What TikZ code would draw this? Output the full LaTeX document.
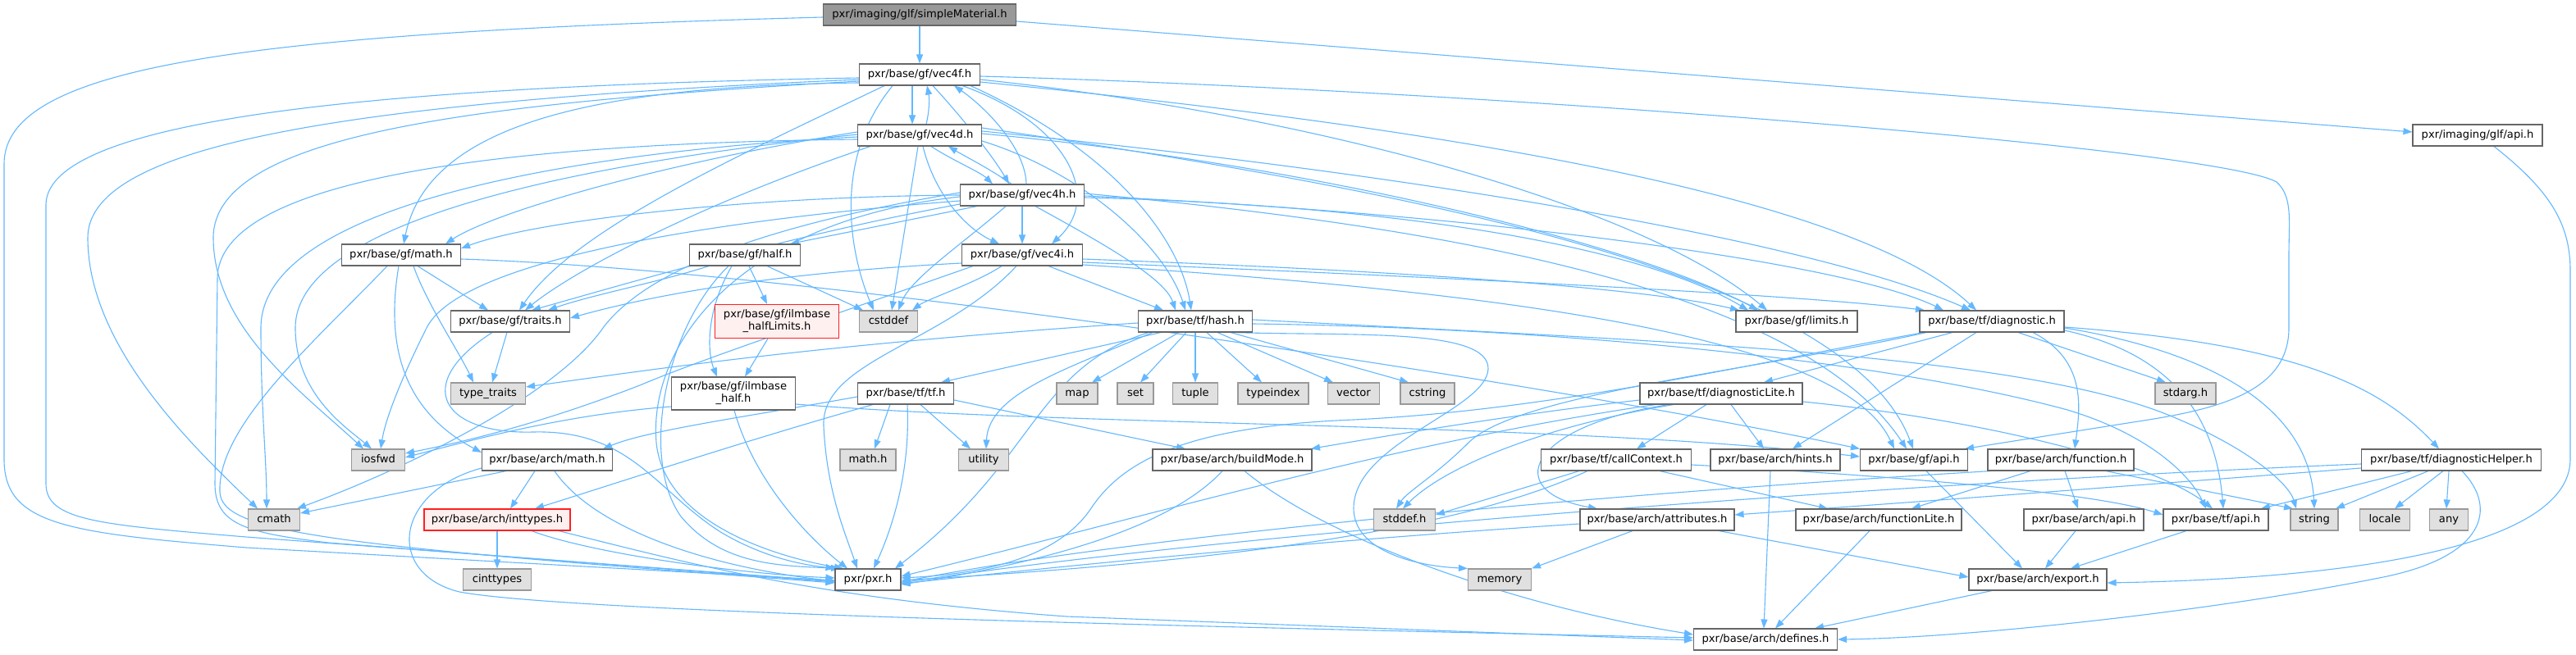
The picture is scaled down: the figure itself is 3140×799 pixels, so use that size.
\documentclass[tikz,border=0pt]{standalone}
\usepackage{fontspec}
\setmainfont{DejaVu Sans}
\usetikzlibrary{arrows.meta,backgrounds}
\definecolor{edgec}{HTML}{63B8FF}
\definecolor{bordc}{HTML}{666666}
\definecolor{grayfill}{HTML}{E0E0E0}
\definecolor{graybord}{HTML}{999999}
\definecolor{redfill}{HTML}{FFF0F0}
\definecolor{redbord}{HTML}{FF2020}
\definecolor{rootfill}{HTML}{999999}
\newcommand\dxfont{\fontsize{13.1pt}{15pt}\selectfont}
\begin{document}
\begin{tikzpicture}[x=1pt,y=-1pt,
  nd/.style={draw=bordc, fill=white, line width=1.1pt, font=\dxfont, minimum height=26pt, inner sep=0pt, text height=10pt, text depth=3pt},
  sys/.style={nd, draw=graybord, fill=grayfill},
  redn/.style={draw=redbord, fill=redfill, line width=1.1pt, font=\dxfont, inner sep=0pt, align=center, minimum height=41pt},
  twon/.style={draw=bordc, fill=white, line width=1.1pt, font=\dxfont, inner sep=0pt, align=center, minimum height=40pt},
  rootn/.style={nd, fill=rootfill},
  e/.style={draw=edgec, line width=1.1pt, -{Triangle[length=11pt,width=8pt]}}
]
\useasboundingbox (0,0) rectangle (3140,799);
% ---------- nodes ----------
\node[rootn, minimum width=235pt] (root) at (1121,18) {pxr/imaging/glf/simpleMaterial.h};
\node[nd, minimum width=147pt] (vec4f) at (1121,91) {pxr/base/gf/vec4f.h};
\node[nd, minimum width=151pt] (vec4d) at (1121,165) {pxr/base/gf/vec4d.h};
\node[nd, minimum width=151pt] (vec4h) at (1246,238) {pxr/base/gf/vec4h.h};
\node[nd, minimum width=158pt] (glfapi) at (3020,165) {pxr/imaging/glf/api.h};
\node[nd, minimum width=145pt] (gfmath) at (489,311) {pxr/base/gf/math.h};
\node[nd, minimum width=135pt] (half) at (908,311) {pxr/base/gf/half.h};
\node[nd, minimum width=147pt] (vec4i) at (1246,311) {pxr/base/gf/vec4i.h};
\node[nd, minimum width=145pt] (traits) at (622,392) {pxr/base/gf/traits.h};
\node[redn, minimum width=151pt] (halfLimits) at (947,392) {pxr/base/gf/ilmbase\\\_halfLimits.h};
\node[sys, minimum width=71pt] (cstddef) at (1083,392) {cstddef};
\node[nd, minimum width=139pt] (hash) at (1457,392) {pxr/base/tf/hash.h};
\node[nd, minimum width=148pt] (limits) at (2190,392) {pxr/base/gf/limits.h};
\node[nd, minimum width=176pt] (diagnostic) at (2428,392) {pxr/base/tf/diagnostic.h};
\node[sys, minimum width=91pt] (typetraits) at (595,480) {type\_traits};
\node[twon, minimum width=151pt] (ilmhalf) at (894,480) {pxr/base/gf/ilmbase\\\_half.h};
\node[nd, minimum width=117pt] (tftf) at (1104,480) {pxr/base/tf/tf.h};
\node[sys, minimum width=50pt] (map) at (1313,480) {map};
\node[sys, minimum width=44pt] (set) at (1384,480) {set};
\node[sys, minimum width=55pt] (tuple) at (1457,480) {tuple};
\node[sys, minimum width=86pt] (typeindex) at (1552,480) {typeindex};
\node[sys, minimum width=63pt] (vector) at (1650,480) {vector};
\node[sys, minimum width=66pt] (cstring) at (1740,480) {cstring};
\node[nd, minimum width=198pt] (diagLite) at (2098,480) {pxr/base/tf/diagnosticLite.h};
\node[sys, minimum width=74pt] (stdarg) at (2664,480) {stdarg.h};
\node[sys, minimum width=65pt] (iosfwd) at (461,561) {iosfwd};
\node[nd, minimum width=159pt] (archmath) at (667,561) {pxr/base/arch/math.h};
\node[sys, minimum width=68pt] (mathh) at (1058,561) {math.h};
\node[sys, minimum width=61pt] (utility) at (1199,561) {utility};
\node[nd, minimum width=194pt] (buildMode) at (1502,561) {pxr/base/arch/buildMode.h};
\node[nd, minimum width=183pt] (callCtx) at (1970,561) {pxr/base/tf/callContext.h};
\node[nd, minimum width=158pt] (hints) at (2164,561) {pxr/base/arch/hints.h};
\node[nd, minimum width=131pt] (gfapi) at (2333,561) {pxr/base/gf/api.h};
\node[nd, minimum width=178pt] (function) at (2512,561) {pxr/base/arch/function.h};
\node[nd, minimum width=219pt] (diagHelper) at (2988,561) {pxr/base/tf/diagnosticHelper.h};
\node[sys, minimum width=63pt] (cmath) at (334,634) {cmath};
\node[redn, minimum width=178pt, minimum height=26pt, text height=10pt, text depth=3pt] (inttypes) at (606,634) {pxr/base/arch/inttypes.h};
\node[sys, minimum width=75pt] (stddef) at (1712,634) {stddef.h};
\node[nd, minimum width=188pt] (attributes) at (2020,634) {pxr/base/arch/attributes.h};
\node[nd, minimum width=202pt] (functionLite) at (2290,634) {pxr/base/arch/functionLite.h};
\node[nd, minimum width=146pt] (archapi) at (2540,634) {pxr/base/arch/api.h};
\node[nd, minimum width=128pt] (tfapi) at (2701,634) {pxr/base/tf/api.h};
\node[sys, minimum width=58pt] (string) at (2821,634) {string};
\node[sys, minimum width=61pt] (locale) at (2907,634) {locale};
\node[sys, minimum width=47pt] (any) at (2985,634) {any};
\node[sys, minimum width=83pt] (cinttypes) at (606,707) {cinttypes};
\node[nd, minimum width=80pt] (pxr) at (1058,707) {pxr/pxr.h};
\node[sys, minimum width=77pt] (memory) at (1828,707) {memory};
\node[nd, minimum width=168pt] (export) at (2484,707) {pxr/base/arch/export.h};
\node[nd, minimum width=175pt] (defines) at (2152,780) {pxr/base/arch/defines.h};
% ---------- edges ----------
\begin{scope}[on background layer]
\fill[white] (0,0) rectangle (3140,799);
% root
\draw[e] (root.south) -- (vec4f.north);
\draw[e] ([yshift=-8pt]root.east) -- ([yshift=4pt]glfapi.west);
\draw[e] ([yshift=-3pt]root.west) .. controls (300,40) and (5,80) .. (5,200) -- (5,560) .. controls (5,640) and (80,650) .. (300,668) -- ([yshift=-1pt]pxr.west);
% glf api
\draw[e] ([xshift=20pt]glfapi.south) .. controls (3105,230) and (3133,270) .. (3133,330) -- (3133,560) .. controls (3133,660) and (2900,705) .. ([yshift=-4pt]export.east);
% vec4f
\draw[e] ([xshift=-9pt]vec4f.south) -- ([xshift=-9pt]vec4d.north);
\draw[e] ([xshift=16pt]vec4f.south) .. controls (1170,140) and (1210,190) .. ([xshift=-16pt]vec4h.north);
\draw[e] ([xshift=52pt]vec4f.south) .. controls (1300,150) and (1345,240) .. ([xshift=36pt]vec4i.north);
\draw[e] ([xshift=62pt]vec4f.south) .. controls (1370,190) and (1440,300) .. ([xshift=-5pt]hash.north);
\draw[e] ([yshift=-4pt]vec4f.west) .. controls (500,105) and (56,140) .. (56,250) -- (56,590) .. controls (56,635) and (120,640) .. (300,655) -- ([yshift=-2pt]pxr.west);
\draw[e] ([yshift=-6pt]vec4f.west) .. controls (400,125) and (107,180) .. (107,290) .. controls (107,420) and (230,540) .. ([xshift=-20pt]cmath.north);
\draw[e] ([yshift=-8pt]vec4f.west) .. controls (600,125) and (260,160) .. (260,290) .. controls (260,400) and (370,480) .. ([xshift=-18pt]iosfwd.north);
\draw[e] ([yshift=-10pt]vec4f.west) .. controls (700,105) and (520,160) .. ([xshift=3pt]gfmath.north);
\draw[e] ([xshift=-43pt]vec4f.south) .. controls (900,190) and (700,280) .. ([xshift=11pt]traits.north);
\draw[e] ([xshift=-33pt]vec4f.south) .. controls (1010,200) and (1040,320) .. ([xshift=-18pt]cstddef.north);
\draw[e] ([yshift=-6pt]vec4f.east) .. controls (1600,140) and (2000,250) .. ([xshift=-36pt]limits.north);
\draw[e] ([yshift=-9pt]vec4f.east) .. controls (1700,150) and (2250,230) .. ([xshift=-19pt]diagnostic.north);
\draw[e] ([yshift=-2pt]vec4f.east) .. controls (1800,110) and (2700,180) .. (2775,222) .. controls (2795,240) and (2790,270) .. (2790,310) -- (2790,400) .. controls (2790,480) and (2700,500) .. (2600,515) -- ([xshift=62pt]gfapi.north);
% vec4d
\draw[e] ([xshift=8pt]vec4d.north) .. controls (1133,135) and (1133,120) .. ([xshift=9pt]vec4f.south);
\draw[e] ([xshift=14pt]vec4d.south) .. controls (1160,195) and (1195,210) .. ([xshift=-36pt]vec4h.north);
\draw[e] ([xshift=4pt]vec4d.south) .. controls (1140,240) and (1180,280) .. ([xshift=-28pt]vec4i.north);
\draw[e] ([yshift=-7pt]vec4d.east) .. controls (1320,210) and (1420,300) .. ([xshift=-12pt]hash.north);
\draw[e] ([yshift=-5pt]vec4d.west) .. controls (600,175) and (265,220) .. (265,340) -- (262,590) .. controls (262,640) and (300,650) .. (400,662) -- ([yshift=-3pt]pxr.west);
\draw[e] ([yshift=-2pt]vec4d.west) .. controls (700,185) and (318,250) .. (318,400) .. controls (318,500) and (325,560) .. ([xshift=-9pt]cmath.north);
\draw[e] ([yshift=1pt]vec4d.west) .. controls (700,200) and (360,270) .. (360,400) .. controls (360,480) and (420,520) .. ([xshift=-8pt]iosfwd.north);
\draw[e] ([yshift=4pt]vec4d.west) .. controls (800,200) and (600,260) .. ([xshift=54pt]gfmath.north);
\draw[e] ([xshift=-60pt]vec4d.south) .. controls (850,250) and (700,330) .. ([xshift=18pt]traits.north);
\draw[e] ([xshift=-2pt]vec4d.south) -- ([xshift=4pt]cstddef.north);
\draw[e] ([yshift=2pt]vec4d.east) .. controls (1600,200) and (2000,300) .. ([xshift=-47pt]limits.north);
\draw[e] ([yshift=5pt]vec4d.east) .. controls (1700,210) and (2200,290) .. ([xshift=-26pt]diagnostic.north);
\draw[e] ([yshift=9pt]vec4d.east) .. controls (1700,230) and (2250,330) .. ([xshift=-1pt]gfapi.north);
% vec4h
\draw[e] ([xshift=5pt]vec4h.north) .. controls (1250,180) and (1200,130) .. ([xshift=42pt]vec4f.south);
\draw[e] ([xshift=-13pt]vec4h.north) .. controls (1205,205) and (1175,190) .. ([xshift=35pt]vec4d.south);
\draw[e] (vec4h.south) -- (vec4i.north);
\draw[e] ([xshift=-55pt]vec4h.south) .. controls (1100,270) and (1000,290) .. ([xshift=55pt]half.north);
\draw[e] ([xshift=16pt]vec4h.south) .. controls (1350,300) and (1420,340) .. ([xshift=-24pt]hash.north);
\draw[e] ([xshift=-20pt]vec4h.south) .. controls (1170,300) and (1110,340) .. ([xshift=12pt]cstddef.north);
\draw[e] ([yshift=-2pt]vec4h.west) .. controls (900,270) and (790,420) .. (800,540) .. controls (810,640) and (950,680) .. ([xshift=-30pt]pxr.north);
\draw[e] ([yshift=3pt]vec4h.west) .. controls (900,280) and (780,340) .. (735,400) .. controls (680,480) and (500,570) .. ([xshift=28pt]cmath.north);
\draw[e] ([yshift=-7pt]vec4h.west) .. controls (850,270) and (560,320) .. (520,400) .. controls (490,460) and (470,510) .. ([xshift=3pt]iosfwd.north);
\draw[e] (vec4h.west) .. controls (900,240) and (650,270) .. ([yshift=8pt]gfmath.east);
\draw[e] ([yshift=-11pt]vec4h.west) .. controls (950,290) and (750,350) .. ([xshift=26pt]traits.north);
\draw[e] ([yshift=-3pt]vec4h.east) .. controls (1700,250) and (2000,300) .. ([xshift=-59pt]limits.north);
\draw[e] ([yshift=-1pt]vec4h.east) .. controls (1800,260) and (2250,320) .. ([xshift=-59pt]diagnostic.north);
\draw[e] ([yshift=2pt]vec4h.east) .. controls (1800,280) and (2200,360) .. ([xshift=-9pt]gfapi.north);
% vec4i
\draw[e] ([xshift=-25pt]vec4i.south) .. controls (1190,345) and (1130,365) .. ([xshift=29pt]cstddef.north);
\draw[e] ([xshift=32pt]vec4i.south) -- ([xshift=-39pt]hash.north);
\draw[e] ([xshift=-7pt]vec4i.south) .. controls (1150,420) and (1000,440) .. (1004,520) .. controls (1008,600) and (1030,650) .. ([xshift=-13pt]pxr.north);
\draw[e] ([yshift=-10pt]vec4i.west) .. controls (900,335) and (760,370) .. ([yshift=4pt]traits.east);
\draw[e] ([xshift=-60pt]vec4i.south) .. controls (1000,390) and (850,440) .. (780,470) .. controls (650,520) and (560,540) .. ([yshift=8pt]iosfwd.east);
\draw[e] ([yshift=-5pt]vec4i.east) .. controls (1700,330) and (2000,350) .. ([xshift=-70pt]limits.north);
\draw[e] ([yshift=-9pt]vec4i.east) .. controls (1800,340) and (2200,360) .. ([xshift=-82pt]diagnostic.north);
\draw[e] ([yshift=-12pt]vec4i.east) .. controls (1900,360) and (2250,420) .. ([xshift=-24pt]gfapi.north);
% gf/math.h
\draw[e] ([xshift=20pt]gfmath.south) -- ([xshift=-27pt]traits.north);
\draw[e] ([xshift=15pt]gfmath.south) .. controls (520,370) and (560,430) .. ([xshift=-18pt]typetraits.north);
\draw[e] ([xshift=-3pt]gfmath.south) .. controls (470,420) and (490,500) .. ([yshift=9pt]archmath.west);
\draw[e] ([xshift=-17pt]gfmath.south) .. controls (380,420) and (265,520) .. (268,600) .. controls (270,650) and (400,665) .. ([yshift=-4pt]pxr.west);
\draw[e] ([yshift=-5pt]gfmath.east) .. controls (1000,330) and (1900,470) .. (gfapi.north west);
% traits
\draw[e] ([xshift=-4pt]traits.south) -- ([xshift=5pt]typetraits.north);
\draw[e] ([xshift=-22pt]traits.south) .. controls (500,470) and (540,530) .. (650,527) .. controls (770,524) and (800,600) .. (880,650) .. controls (940,685) and (990,690) .. (pxr.north west);
% arch/math.h
\draw[e] ([xshift=-50pt]archmath.south) -- ([yshift=8pt]cmath.east);
\draw[e] ([xshift=-15pt]archmath.south) -- ([xshift=16pt]inttypes.north);
\draw[e] ([xshift=9pt]archmath.south) .. controls (720,640) and (850,690) .. ([yshift=-2pt]pxr.west);
\draw[e] ([yshift=-10pt]archmath.west) .. controls (480,600) and (470,700) .. (560,722) .. controls (700,748) and (1500,765) .. ([yshift=2pt]defines.west);
% inttypes
\draw[e] (inttypes.south) -- (cinttypes.north);
\draw[e] ([xshift=42pt]inttypes.south) .. controls (720,675) and (900,700) .. ([yshift=2pt]pxr.west);
\draw[e] ([xshift=75pt]inttypes.south) .. controls (850,690) and (1000,730) .. (1300,752) -- ([yshift=-1pt]defines.west);
% half
\draw[e] ([xshift=5pt]half.south) -- ([xshift=-12pt]halfLimits.north);
\draw[e] ([xshift=27pt]half.south) -- ([xshift=-31pt]cstddef.north);
\draw[e] ([xshift=-16pt]half.south) .. controls (860,380) and (862,430) .. ([xshift=-20pt]ilmhalf.north);
\draw[e] ([xshift=-20pt]half.south) .. controls (810,400) and (780,560) .. (830,630) .. controls (880,690) and (950,690) .. ([xshift=-34pt]pxr.north);
\draw[e] ([xshift=-44pt]half.south) .. controls (800,345) and (720,360) .. ([xshift=46pt]traits.north);
\draw[e] ([xshift=-11pt]halfLimits.south) -- ([xshift=14pt]ilmhalf.north);
% ilmbase_half
\draw[e] ([xshift=1pt]ilmhalf.south) .. controls (920,590) and (990,660) .. ([xshift=-25pt]pxr.north);
\draw[e] ([yshift=-13pt]ilmhalf.east) .. controls (1300,520) and (1900,515) .. ([yshift=4pt]gfapi.west);
\draw[e] ([yshift=-16pt]ilmhalf.west) .. controls (700,505) and (600,530) .. ([yshift=3pt]iosfwd.east);
% tf.h
\draw[e] ([xshift=-19pt]tftf.south) -- ([xshift=8pt]mathh.north);
\draw[e] ([xshift=18pt]tftf.south) -- ([xshift=-16pt]utility.north);
\draw[e] ([xshift=2pt]tftf.south) .. controls (1110,580) and (1085,650) .. ([xshift=7pt]pxr.north);
\draw[e] ([yshift=-8pt]tftf.east) -- ([xshift=-57pt]buildMode.north);
\draw[e] ([yshift=-4pt]tftf.west) .. controls (900,510) and (790,525) .. ([xshift=68pt]archmath.north);
\draw[e] ([xshift=-40pt]tftf.south) .. controls (900,540) and (750,590) .. ([xshift=46pt]inttypes.north);
% hash
\draw[e] ([xshift=-20pt]hash.south) -- ([xshift=18pt]map.north);
\draw[e] ([xshift=-11pt]hash.south) -- ([xshift=6pt]set.north);
\draw[e] (hash.south) -- (tuple.north);
\draw[e] ([xshift=14pt]hash.south) -- ([xshift=-14pt]typeindex.north);
\draw[e] ([xshift=27pt]hash.south) -- ([xshift=-25pt]vector.north);
\draw[e] ([xshift=43pt]hash.south) -- ([xshift=-23pt]cstring.north);
\draw[e] ([xshift=-42pt]hash.south) -- ([xshift=43pt]tftf.north);
\draw[e] ([xshift=-52pt]hash.south) .. controls (1300,450) and (1205,480) .. ([xshift=3pt]utility.north);
\draw[e] ([xshift=-57pt]hash.south) .. controls (1260,450) and (1265,560) .. ([xshift=33pt]pxr.north);
\draw[e] ([yshift=-2pt]hash.west) .. controls (1000,420) and (800,450) .. ([yshift=8pt]typetraits.east);
\draw[e] ([xshift=47pt]hash.south) .. controls (1650,410) and (1815,400) .. (1814,450) .. controls (1812,500) and (1650,540) .. (1650,620) .. controls (1650,670) and (1720,690) .. (memory.north west);
\draw[e] ([yshift=-3pt]hash.east) .. controls (1900,400) and (2300,440) .. (2520,500) .. controls (2620,530) and (2670,580) .. ([xshift=-12pt]tfapi.north);
\draw[e] ([yshift=2pt]hash.east) .. controls (2000,415) and (2450,430) .. (2640,505) .. controls (2740,545) and (2790,590) .. ([xshift=-22pt]string.north);
% diagnostic
\draw[e] ([xshift=-48pt]diagnostic.south) -- ([xshift=52pt]diagLite.north);
\draw[e] ([xshift=-19pt]diagnostic.south) -- ([xshift=21pt]hints.north);
\draw[e] ([xshift=50pt]diagnostic.south) .. controls (2545,440) and (2535,500) .. ([xshift=17pt]function.north);
\draw[e] ([xshift=32pt]diagnostic.south) -- ([xshift=-24pt]stdarg.north);
\draw[e] ([yshift=-7pt]diagnostic.east) .. controls (2800,420) and (2900,470) .. ([xshift=-15pt]diagHelper.north);
\draw[e] ([yshift=-11pt]diagnostic.east) .. controls (2640,430) and (2700,500) .. ([xshift=9pt]tfapi.north);
\draw[e] ([yshift=-8pt]diagnostic.east) .. controls (2700,430) and (2815,500) .. (string.north);
\draw[e] ([xshift=-83pt]diagnostic.south) .. controls (2150,440) and (1900,500) .. (1650,512) .. controls (1450,520) and (1370,560) .. (1330,620) .. controls (1290,680) and (1200,700) .. ([yshift=2pt]pxr.east);
\draw[e] ([xshift=-80pt]diagnostic.south) .. controls (2150,450) and (1850,480) .. (1790,540) .. controls (1750,580) and (1715,600) .. ([xshift=-10pt]stddef.north);
% diagnosticLite
\draw[e] ([xshift=-18pt]diagLite.south) -- ([xshift=25pt]callCtx.north);
\draw[e] ([xshift=12pt]diagLite.south) -- ([xshift=-14pt]hints.north);
\draw[e] ([xshift=-58pt]diagLite.south) .. controls (1880,520) and (1760,570) .. ([xshift=-2pt]stddef.north);
\draw[e] ([xshift=-64pt]diagLite.south) .. controls (1860,520) and (1830,600) .. ([xshift=-73pt]attributes.north);
\draw[e] ([xshift=-80pt]diagLite.south) .. controls (1700,540) and (1400,630) .. ([yshift=4pt]pxr.east);
\draw[e] ([yshift=-10pt]diagLite.east) .. controls (2400,510) and (2620,560) .. ([xshift=-4pt]tfapi.north);
\draw[e] ([yshift=-8pt]diagLite.west) .. controls (1850,505) and (1700,530) .. ([xshift=96pt]buildMode.north);
% callContext
\draw[e] ([xshift=-45pt]callCtx.south) -- ([yshift=6pt]stddef.east);
\draw[e] ([xshift=-35pt]callCtx.south) .. controls (1750,660) and (1400,690) .. ([yshift=-1pt]pxr.east);
\draw[e] ([xshift=53pt]callCtx.south) -- ([xshift=-62pt]functionLite.north);
\draw[e] ([yshift=-6pt]callCtx.east) .. controls (2300,580) and (2550,600) .. ([yshift=6pt]tfapi.west);
% misc arch
\draw[e] ([xshift=-6pt]hints.south) -- ([xshift=-2pt]defines.north);
\draw[e] ([xshift=15pt]gfapi.south) -- ([xshift=-19pt]export.north);
\draw[e] ([xshift=5pt]function.south) -- ([xshift=-7pt]archapi.north);
\draw[e] ([xshift=55pt]function.south) -- ([xshift=-26pt]string.north);
\draw[e] ([xshift=-37pt]function.south) -- ([xshift=40pt]functionLite.north);
\draw[e] ([xshift=-85pt]function.south) .. controls (2000,600) and (1400,650) .. ([yshift=-3pt]pxr.east);
% diagnosticHelper
\draw[e] ([xshift=-48pt]diagHelper.south) -- ([xshift=55pt]tfapi.north);
\draw[e] ([xshift=-28pt]diagHelper.south) -- ([xshift=26pt]string.north);
\draw[e] ([xshift=-10pt]diagHelper.south) -- ([xshift=12pt]locale.north);
\draw[e] ([xshift=-3pt]diagHelper.south) -- ([xshift=-3pt]any.north);
\draw[e] ([yshift=-5pt]diagHelper.west) .. controls (2300,590) and (1500,650) .. ([yshift=-4pt]pxr.east);
\draw[e] ([yshift=-10pt]diagHelper.west) .. controls (2500,600) and (2300,615) .. ([yshift=6pt]attributes.east);
\draw[e] ([xshift=13pt]diagHelper.south) .. controls (3045,620) and (3030,680) .. (2900,705) .. controls (2700,745) and (2400,778) .. (defines.east);
% attributes etc.
\draw[e] ([xshift=-30pt]attributes.south) -- (memory.north east);
\draw[e] ([yshift=-5pt]attributes.west) .. controls (1600,660) and (1300,690) .. ([yshift=-5pt]pxr.east);
\draw[e] ([xshift=75pt]attributes.south) -- ([yshift=3pt]export.west);
\draw[e] ([xshift=-11pt]functionLite.south) -- ([xshift=12pt]defines.north);
\draw[e] ([xshift=-10pt]archapi.south) -- ([xshift=9pt]export.north);
\draw[e] ([xshift=-36pt]tfapi.south) -- ([xshift=40pt]export.north);
\draw[e] ([xshift=-56pt]export.south) -- ([xshift=60pt]defines.north);
% buildMode
\draw[e] ([xshift=15pt]buildMode.south) .. controls (1620,660) and (1850,740) .. ([yshift=6pt]defines.west);
\draw[e] ([xshift=-12pt]buildMode.south) .. controls (1420,650) and (1250,690) .. ([yshift=-6pt]pxr.east);
\end{scope}
\end{tikzpicture}
\end{document}
